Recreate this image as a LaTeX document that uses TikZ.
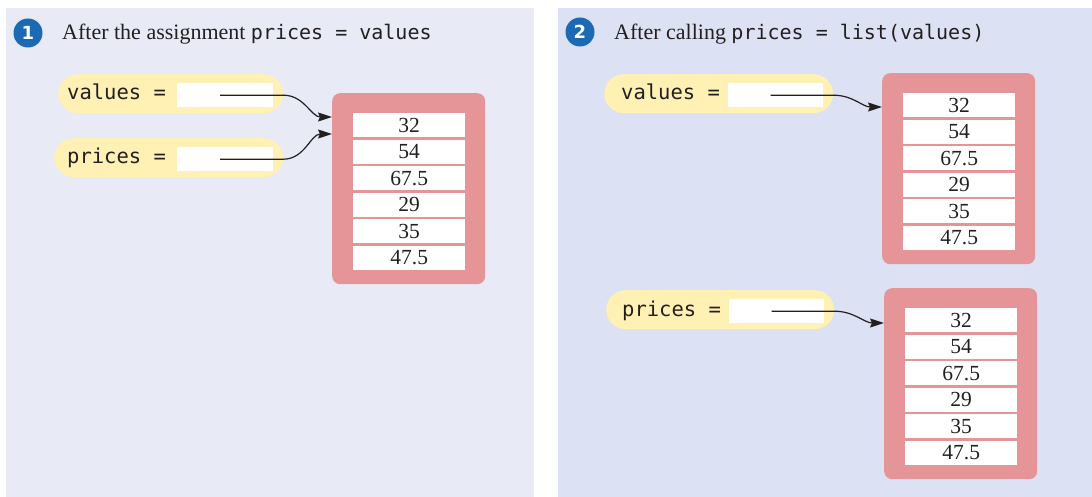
\documentclass[tikz,border=0pt]{standalone}
\usepackage{fontspec}
\setmainfont{Liberation Serif}
\setmonofont{DejaVu Sans Mono}
\newfontfamily\badgefont{DejaVu Sans}
\usetikzlibrary{arrows.meta,positioning,calc}
\definecolor{panelleft}{HTML}{E8EAF6}
\definecolor{panelright}{HTML}{DCE1F3}
\definecolor{pillyellow}{HTML}{FFF0B4}
\definecolor{arraypink}{HTML}{E59498}
\definecolor{badgeblue}{HTML}{1B6AB3}
\definecolor{ink}{HTML}{231F20}
\newcommand{\codetxt}[1]{{\ttfamily\fontsize{20}{22}\selectfont #1}}

\begin{document}
\begin{tikzpicture}[x=1pt, y=-1pt,
  badge/.style={circle, fill=badgeblue, text=white, minimum size=29pt, inner sep=0pt,
    font=\badgefont\bfseries\fontsize{18}{18}\selectfont},
  caption/.style={anchor=base west, inner sep=0pt, text=ink, font=\fontsize{22}{24}\selectfont},
  pill/.style={rectangle, rounded corners=19.5pt, fill=pillyellow, minimum height=39pt,
    anchor=north west, inner sep=0pt},
  varname/.style={anchor=base west, inner sep=0pt, text=ink, font=\ttfamily\fontsize{20.5}{22}\selectfont},
  slot/.style={rectangle, fill=white, minimum width=96pt, minimum height=24pt,
    anchor=north west, inner sep=0pt},
  arrframe/.style={rectangle, rounded corners=8pt, fill=arraypink, minimum width=153pt,
    minimum height=191pt, anchor=north west, inner sep=0pt},
  cell/.style={rectangle, fill=white, minimum width=112pt, minimum height=24pt,
    anchor=north west, inner sep=0pt, text=ink, font=\fontsize{21.5}{22}\selectfont},
  ptr/.style={draw=ink, line width=1.2pt, -{Stealth[length=14pt, width=9pt, inset=2pt]}}
]
\useasboundingbox (0,0) rectangle (1092,497);

% Two panels
\fill[panelleft] (6,8) rectangle (534,497);
\fill[panelright] (558,8) rectangle (1092,497);

% Step headings
\node[badge] (numA) at (28,33) {1};
\node[caption] (titleA) at (62,40) {After the assignment \codetxt{prices = values}};
\node[badge] (numB) at (580,32) {2};
\node[caption] (titleB) at (614,40) {After calling \codetxt{prices = list(values)}};

% List objects
\foreach \arr/\ax/\ay in {arrA/332/93, arrB/882/73, arrC/884/288}{
  \node[arrframe] (\arr) at (\ax,\ay) {};
  \foreach \v [count=\i] in {32,54,67.5,29,35,47.5}
    \node[cell] (\arr-\i) at ($(\arr.north west)+(21,{20+26.5*(\i-1)})$) {\v};
}

% Panel 1: both variables share one list
\node[pill, minimum width=225pt] (vpillA) at (58,74) {};
\node[varname] (vnameA) at (67,100) {values =};
\node[slot] (vslotA) at (177,83) {};
\node[pill, minimum width=229pt] (ppillA) at (54,138) {};
\node[varname] (pnameA) at (67,164) {prices =};
\node[slot] (pslotA) at (177,147) {};
\draw[ptr] ([xshift=-5pt]vslotA.center) -- (vslotA.center -| vpillA.east)
  to[out=0, in=180] ([yshift=-24pt]arrA.north west);
\draw[ptr] ([xshift=-5pt]pslotA.center) -- (pslotA.center -| ppillA.east)
  to[out=0, in=180] ([yshift=-41pt]arrA.north west);

% Panel 2: prices refers to a copy
\node[pill, minimum width=229pt] (vpillB) at (604,74) {};
\node[varname] (vnameB) at (621,100) {values =};
\node[slot, minimum width=95pt] (vslotB) at (728,83) {};
\node[pill, minimum width=228pt] (ppillB) at (606,290) {};
\node[varname] (pnameB) at (622,316) {prices =};
\node[slot, minimum width=95pt] (pslotB) at (729,299) {};
\draw[ptr] ([xshift=-5pt]vslotB.center) -- (vslotB.center -| vpillB.east)
  to[out=0, in=180] ([yshift=-34pt]arrB.north west);
\draw[ptr] ([xshift=-5pt]pslotB.center) -- (pslotB.center -| ppillB.east)
  to[out=0, in=180] ([yshift=-35pt]arrC.north west);

\end{tikzpicture}
\end{document}
